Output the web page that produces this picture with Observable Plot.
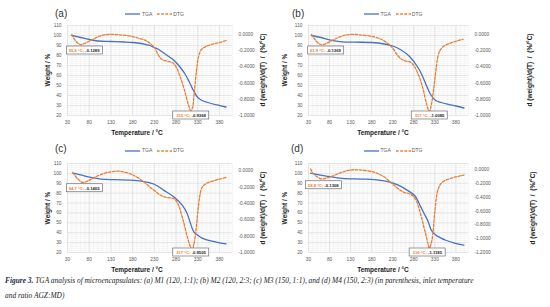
<!DOCTYPE html>
<html><head><meta charset="utf-8">
<script src="https://cdn.jsdelivr.net/npm/d3@7"></script>
<script src="https://cdn.jsdelivr.net/npm/@observablehq/plot@0.6"></script>
<style>
html,body{margin:0;padding:0;background:#fff}
body{width:550px;height:307px;overflow:hidden;position:relative;font-family:"Liberation Sans",Arial,sans-serif}
.panel{position:absolute}
.panel svg{overflow:visible}
.abs{position:absolute;white-space:nowrap;line-height:1}
.plabel{font-size:10px;color:#333}
.ttl{font-size:6.5px;font-weight:bold;color:#1a1a1a}
.leg{font-size:5px;color:#595959;display:flex;align-items:center}
.cap{position:absolute;left:5px;top:273px;width:545px;font-family:"Liberation Serif","Times New Roman",serif;font-style:italic;font-size:7.4px;line-height:15px;color:#222;white-space:nowrap}
.cap b{font-style:italic;color:#1c2a4a}
</style></head><body>
<script>
// ---------- data ----------
const xTickLabels = [30, 80, 130, 180, 230, 280, 330, 380];
const weightTicks = [20, 30, 40, 50, 60, 70, 80, 90, 100, 110];
const dtgTicksABC = [0, -0.2, -0.4, -0.6, -0.8, -1.0];
const dtgTicksD = [0, -0.2, -0.4, -0.6, -0.8, -1.0, -1.2];

// (a) M1
const tgaTempA = [40, 60, 80, 100, 130, 160, 180, 200, 210, 220, 230, 240, 250, 260, 270, 280, 290, 300, 310, 320, 330, 340, 350, 360, 380, 395];
const tgaWeightA = [100, 98, 96, 94.5, 94, 93.5, 93, 92, 91, 90, 88, 86, 83, 80, 77, 73, 68, 62, 54, 45, 38, 35, 33.5, 32, 30, 28.5];
const dtgTempA = [40, 50, 60, 70, 85, 100, 115, 135, 155, 175, 195, 210, 220, 230, 240, 248, 260, 272, 280, 290, 300, 308, 314, 318, 322, 327, 332, 338, 348, 362, 380, 395];
const dtgValueA = [0.0, -0.09, -0.125, -0.11, -0.07, -0.03, -0.005, 0.0, -0.008, -0.02, -0.05, -0.075, -0.11, -0.16, -0.26, -0.31, -0.33, -0.35, -0.40, -0.53, -0.70, -0.86, -0.94, -0.90, -0.72, -0.45, -0.27, -0.19, -0.15, -0.125, -0.1, -0.075];
const annoTempA = [70, 315];
const annoTextA = [["55.6 °C;", "-0.1289"], ["315 °C;", "-0.9368"]];

// (b) M2
const tgaTempB = [37, 60, 80, 110, 140, 180, 210, 230, 250, 270, 290, 300, 310, 320, 332, 345, 360, 380, 399];
const tgaWeightB = [100, 98, 95.7, 93.7, 93.3, 93, 91.5, 89.5, 85.5, 79, 68, 60, 50, 41, 35, 33, 31.3, 29.5, 27.5];
const dtgTempB = [37, 45, 55, 62, 75, 90, 110, 130, 160, 185, 205, 218, 230, 242, 252, 262, 272, 282, 292, 302, 310, 317, 322, 327, 332, 337, 342, 350, 365, 380, 397];
const dtgValueB = [0.0, -0.06, -0.115, -0.128, -0.105, -0.065, -0.02, 0.0, -0.01, -0.028, -0.066, -0.11, -0.17, -0.26, -0.31, -0.33, -0.34, -0.40, -0.51, -0.67, -0.85, -0.95, -0.86, -0.68, -0.47, -0.28, -0.2, -0.15, -0.11, -0.085, -0.06];
const annoTempB = [72, 318];
const annoTextB = [["61.9 °C;", "-0.1369"], ["317 °C;", "-1.0085"]];

// (c) M3
const tgaTempC = [42, 60, 84, 107, 138, 184, 215, 230, 253, 276, 295, 305, 311, 321, 330, 340, 353, 375, 395];
const tgaWeightC = [100.3, 98.5, 96, 94.3, 93.6, 93, 91, 89, 82.6, 75.9, 67.5, 60, 52.5, 40.8, 37.4, 34.5, 32.4, 30.3, 28.7];
const dtgTempC = [42, 52, 65, 80, 92, 110, 130, 145, 160, 176, 192, 207, 220, 230, 242, 253, 265, 275, 284, 295, 307, 313, 317, 321, 326, 330, 335, 340, 350, 368, 395];
const dtgValueC = [-0.02, -0.09, -0.142, -0.115, -0.08, -0.04, -0.012, -0.003, -0.015, -0.04, -0.085, -0.14, -0.2, -0.24, -0.29, -0.32, -0.33, -0.34, -0.40, -0.58, -0.83, -0.93, -0.96, -0.9, -0.72, -0.51, -0.3, -0.2, -0.155, -0.12, -0.08];
const annoTempC = [70, 315];
const annoTextC = [["64.7 °C;", "-0.1405"], ["317 °C;", "-0.9505"]];

// (d) M4
const tgaTempD = [35, 55, 77, 109, 156, 187, 219, 242, 266, 282, 297, 305, 313, 322, 333, 345, 356, 375, 399];
const tgaWeightD = [100.3, 98.5, 97, 95, 94.3, 93.6, 91.6, 88.3, 82.6, 77.6, 65.9, 59, 52.5, 42.4, 37.4, 34.5, 32.4, 29.8, 27.4];
const dtgTempD = [35, 42, 52, 61, 73, 85, 109, 128, 156, 187, 211, 234, 254, 274, 286, 297, 304, 309, 314, 317, 321, 325, 330, 338, 348, 368, 399];
const dtgValueD = [0.01, -0.06, -0.11, -0.134, -0.12, -0.096, -0.038, -0.005, -0.005, -0.038, -0.11, -0.23, -0.32, -0.36, -0.45, -0.66, -0.83, -0.95, -1.08, -1.14, -1.08, -0.95, -0.61, -0.28, -0.18, -0.125, -0.077];
const annoTempD = [67, 313];
const annoTextD = [["58.8 °C;", "-0.1308"], ["316 °C;", "-1.1185"]];

// ---------- layout ----------
const BLUE = "#4472C4", ORANGE = "#ED7D31";
const panels = [
  {lab:"(a)", left:0, top:0, mL:67, mR:43, mT:25, mB:20, rmin:-1, rmax:0.11, rt:dtgTicksABC,
   tT:tgaTempA, tW:tgaWeightA, dT:dtgTempA, dV:dtgValueA, aT:annoTempA, aX:annoTextA, aY:85,
   labX:55, yTitleX:48, rTitleX:263, xTitleX:137},
  {lab:"(b)", left:275, top:0, mL:33, mR:82, mT:25, mB:20, rmin:-1, rmax:0.11, rt:dtgTicksABC,
   tT:tgaTempB, tW:tgaWeightB, dT:dtgTempB, dV:dtgValueB, aT:annoTempB, aX:annoTextB, aY:85,
   labX:17, yTitleX:10, rTitleX:255, xTitleX:108},
  {lab:"(c)", left:0, top:135, mL:67, mR:43, mT:28, mB:18, rmin:-1, rmax:0.09, rt:dtgTicksABC,
   tT:tgaTempC, tW:tgaWeightC, dT:dtgTempC, dV:dtgValueC, aT:annoTempC, aX:annoTextC, aY:85,
   labX:55, yTitleX:48, rTitleX:263, xTitleX:137},
  {lab:"(d)", left:275, top:135, mL:33, mR:82, mT:28, mB:18, rmin:-1.2, rmax:0.09, rt:dtgTicksD,
   tT:tgaTempD, tW:tgaWeightD, dT:dtgTempD, dV:dtgValueD, aT:annoTempD, aX:annoTextD, aY:88,
   labX:16, yTitleX:10, rTitleX:258, xTitleX:108}
];
const W = 275, H = 135;
const fmt4 = v => (Math.abs(v) < 1e-9 ? 0 : v).toFixed(4);

function add(el){ document.body.appendChild(el); return el; }
function div(cls, html, css){ const d = document.createElement("div"); d.className = cls; d.innerHTML = html; Object.assign(d.style, css); return add(d); }

for (const p of panels) {
  const toL = r => 20 + (r - p.rmin) / (p.rmax - p.rmin) * 90;
  const fromL = v => p.rmin + (v - 20) / 90 * (p.rmax - p.rmin);
  const tga = p.tT.map((t, i) => ({t, w: p.tW[i]}));
  const dtg = p.dT.map((t, i) => ({t, v: toL(p.dV[i])}));
  const annos = p.aT.map((t, i) => ({t, y: i === 0 ? p.aY : 20, a: p.aX[i][0], b: p.aX[i][1]}));

  const chart = Plot.plot({
    width: W, height: H,
    marginLeft: p.mL, marginRight: p.mR, marginTop: p.mT, marginBottom: p.mB,
    style: {background: "transparent", fontFamily: "Liberation Sans, Arial, sans-serif", overflow: "visible"},
    x: {domain: [30, 410]},
    y: {domain: [20, 110]},
    marks: [
      Plot.ruleX(d3.range(30, 411, 10), {stroke: "#ececec", strokeWidth: 0.5}),
      Plot.ruleY(d3.range(20, 111, 2), {stroke: "#efefef", strokeWidth: 0.5}),
      Plot.ruleX(d3.range(30, 411, 50), {stroke: "#d9d9d9", strokeWidth: 0.6}),
      Plot.ruleY(weightTicks, {stroke: "#d9d9d9", strokeWidth: 0.6}),
      Plot.axisX({ticks: xTickLabels, tickSize: 0, tickPadding: 5, label: null, color: "#595959", fontSize: 4.8}),
      Plot.axisY({ticks: weightTicks, anchor: "left", tickSize: 0, tickPadding: 6, label: null, color: "#595959", fontSize: 4.8}),
      Plot.axisY({ticks: p.rt.map(toL), anchor: "right", tickSize: 0, tickPadding: 6, label: null, color: "#595959", fontSize: 4.8,
                  tickFormat: v => fmt4(fromL(v))}),
      Plot.line(tga, {x: "t", y: "w", stroke: BLUE, strokeWidth: 1.3, curve: "catmull-rom"}),
      Plot.line(dtg, {x: "t", y: "v", stroke: ORANGE, strokeWidth: 1.3, strokeDasharray: "2.6,1.6", curve: "catmull-rom"}),
      Plot.rect(annos, {x1: "t", x2: "t", y1: "y", y2: "y", insetLeft: -18, insetRight: -18, insetTop: -4, insetBottom: -4,
                        fill: "white", stroke: "#6f6f6f", strokeWidth: 0.7}),
      Plot.text(annos, {x: "t", y: "y", text: "a", textAnchor: "end", dx: -0.8, fill: ORANGE, fontSize: 4.2, fontWeight: "bold"}),
      Plot.text(annos, {x: "t", y: "y", text: "b", textAnchor: "start", dx: 0.4, fill: "#222", fontSize: 4.2, fontWeight: "bold"})
    ]
  });
  const wrap = document.createElement("div");
  wrap.className = "panel";
  wrap.style.left = p.left + "px"; wrap.style.top = p.top + "px";
  wrap.appendChild(chart);
  add(wrap);

  const plotL = p.left + p.mL, plotR = p.left + W - p.mR;
  const plotT = p.top + p.mT, plotB = p.top + H - p.mB;
  const cy = (plotT + plotB) / 2;

  // panel label
  div("abs plabel", p.lab, {left: (p.left + p.labX) + "px", top: (p.top + 9) + "px"});
  // legend
  const legCx = (plotL + plotR) / 2 + 4.5;
  div("abs leg",
    `<svg width="15" height="4"><line x1="0" x2="15" y1="2" y2="2" stroke="${BLUE}" stroke-width="1.3"/></svg><span style="margin:0 5px 0 2px">TGA</span>` +
    `<svg width="15" height="4"><line x1="0" x2="15" y1="2" y2="2" stroke="${ORANGE}" stroke-width="1.3" stroke-dasharray="2.6,1.6"/></svg><span style="margin-left:1px">DTG</span>`,
    {left: (legCx - 29) + "px", top: (p.top + 11.5 + (p.top ? 1.5 : 0)) + "px"});
  // axis titles
  div("abs ttl", "Weight / %", {left: (p.left + p.yTitleX) + "px", top: cy + "px", transform: "translate(-50%,-50%) rotate(-90deg)"});
  div("abs ttl", "d (weight)/d(T)&nbsp; / &nbsp;(%/°C)", {left: (p.left + p.rTitleX) + "px", top: cy + "px", transform: "translate(-50%,-50%) rotate(-90deg)"});
  div("abs ttl", "Temperature / °C", {left: (p.left + p.xTitleX) + "px", top: (plotB + 18) + "px", transform: "translate(-50%,-50%)"});
}

div("cap", `<b>Figure 3.</b> TGA analysis of microencapsulates: (a) M1 (120, 1:1); (b) M2 (120, 2:3; (c) M3 (150, 1:1), and (d) M4 (150, 2:3) (in parenthesis, inlet temperature<br>and ratio AGZ:MD)`, {});
</script>
</body></html>
